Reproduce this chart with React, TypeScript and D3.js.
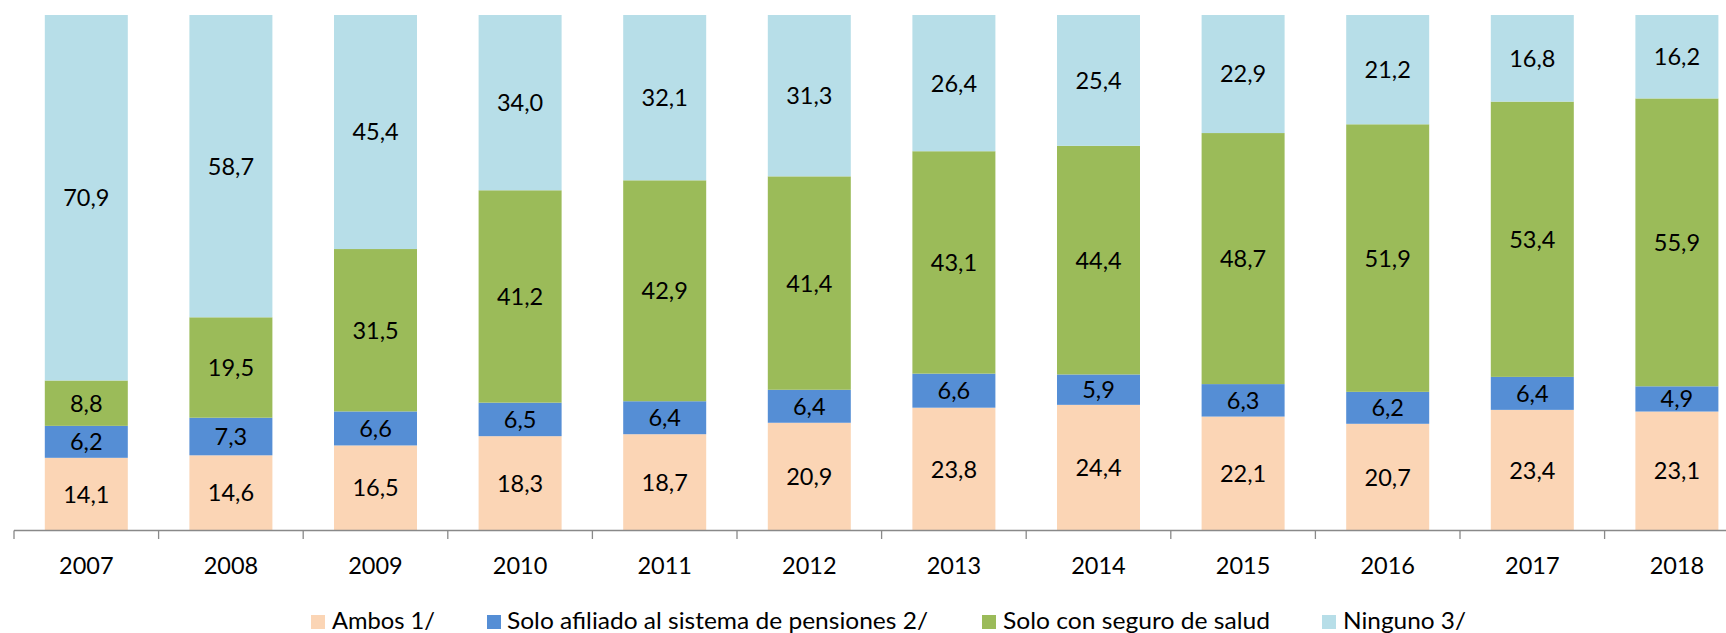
import React from "react";
import * as d3 from "d3";

const years = ["2007","2008","2009","2010","2011","2012","2013","2014","2015","2016","2017","2018"];
const ambos = [14.1,14.6,16.5,18.3,18.7,20.9,23.8,24.4,22.1,20.7,23.4,23.1];
const pensiones = [6.2,7.3,6.6,6.5,6.4,6.4,6.6,5.9,6.3,6.2,6.4,4.9];
const salud = [8.8,19.5,31.5,41.2,42.9,41.4,43.1,44.4,48.7,51.9,53.4,55.9];
const ninguno = [70.9,58.7,45.4,34.0,32.1,31.3,26.4,25.4,22.9,21.2,16.8,16.2];

const seriesNames = ["Ambos 1/", "Solo afiliado al sistema de pensiones 2/", "Solo con seguro de salud", "Ninguno 3/"];
const seriesValues = [ambos, pensiones, salud, ninguno];
const colors = ["#FBD5B5", "#558ED5", "#9BBB59", "#B7DEE8"];

const W = 1726;
const H = 633;
const FONT = "Lato, 'Open Sans', sans-serif";

export default function App() {
  const keys = ["k0", "k1", "k2", "k3"];
  const rows = years.map((y, i) => {
    const r: any = { year: y };
    keys.forEach((k, j) => (r[k] = seriesValues[j][i]));
    return r;
  });
  const stack = d3.stack().keys(keys).offset(d3.stackOffsetExpand);
  const stacked = stack(rows);

  const x = d3.scaleBand().domain(years).range([14, 1749.2]).paddingInner(0.426).paddingOuter(0.213);
  const y = d3.scaleLinear().domain([0, 1]).range([530.5, 15]);
  const step = x.step();
  const axisY = 530.5;
  const x0 = 14;

  const legendSquares = [311, 487, 982, 1322];
  const legendText = [332, 507, 1003, 1343];
  const legendWidths = [103, 421, 267, 123];

  return (
    <svg width={W} height={H} style={{ position: "absolute", left: 0, top: 0, background: "#fff" }} fontFamily={FONT}>
      {stacked.map((s, si) => (
        <g key={si}>
          {s.map((d: any, i: number) => (
            <rect key={i} x={x(years[i])} y={y(d[1])} width={x.bandwidth()} height={y(d[0]) - y(d[1])} fill={colors[si]} />
          ))}
        </g>
      ))}
      {stacked.map((s, si) => (
        <g key={"l" + si}>
          {s.map((d: any, i: number) => (
            <text key={i} x={(x(years[i]) as number) + x.bandwidth() / 2} y={(y(d[0]) + y(d[1])) / 2} dy="0.36em" textAnchor="middle" fontSize={23.5} fill="#000">
              {seriesValues[si][i].toFixed(1).replace(".", ",")}
            </text>
          ))}
        </g>
      ))}
      <line x1={x0} x2={W} y1={axisY} y2={axisY} stroke="#898989" strokeWidth={1.3} />
      {d3.range(years.length + 1).map((i) => (
        <line key={i} x1={x0 + i * step} x2={x0 + i * step} y1={axisY} y2={539} stroke="#898989" strokeWidth={1.3} />
      ))}
      {years.map((yr) => (
        <text key={yr} x={(x(yr) as number) + x.bandwidth() / 2} y={574} textAnchor="middle" fontSize={23.5} fill="#000">
          {yr}
        </text>
      ))}
      {seriesNames.map((n, i) => (
        <g key={n}>
          <rect x={legendSquares[i]} y={615} width={14} height={14} fill={colors[i]} />
          <text x={legendText[i]} y={629} fontSize={23} fill="#000" textLength={legendWidths[i]} lengthAdjust="spacingAndGlyphs">{n}</text>
        </g>
      ))}
    </svg>
  );
}
